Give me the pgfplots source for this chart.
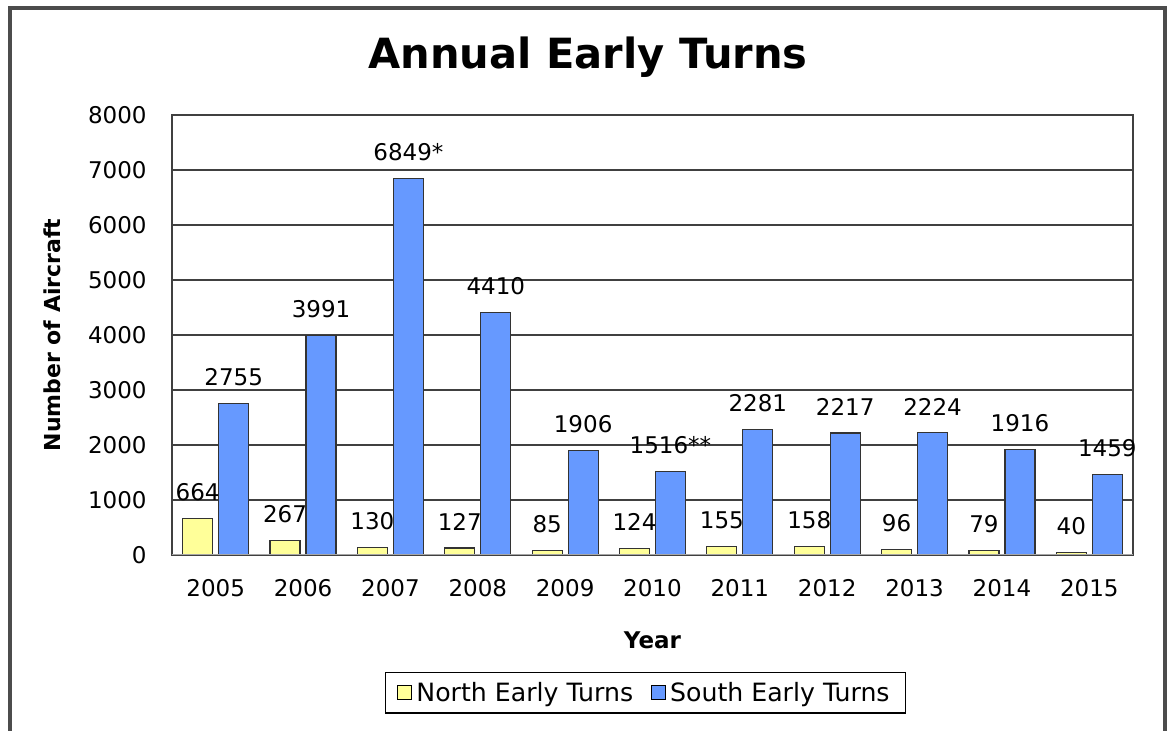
\documentclass[border=0pt]{standalone}
\usepackage{pgfplots}
\usepackage{pgfplotstable}
\pgfplotsset{compat=1.18}
\usepackage{fontspec}
\setmainfont{DejaVu Sans}
\definecolor{northc}{HTML}{FFFF99}
\definecolor{southc}{HTML}{6699FF}
\definecolor{gridc}{HTML}{404040}

\pgfplotstableread{
x y label
0 664 664
1 267 267
2 130 130
3 127 127
4 85 85
5 124 124
6 155 155
7 158 158
8 96 96
9 79 79
10 40 40
}\northtable

\pgfplotstableread{
x y label
0 2755 2755
1 3991 3991
2 6849 6849*
3 4410 4410
4 1906 1906
5 1516 1516**
6 2281 2281
7 2217 2217
8 2224 2224
9 1916 1916
10 1459 1459
}\southtable

\begin{document}
\begin{tikzpicture}
\useasboundingbox (0pt,0pt) rectangle (584.5pt,365.5pt);
\draw[line width=2pt, black!70] (5pt,-10pt) -- (5pt,361.5pt) -- (582.5pt,361.5pt) -- (582.5pt,-10pt);
\node[font=\bfseries\fontsize{20.8}{24}\selectfont] at (294pt,337pt) {Annual Early Turns};
\begin{axis}[
  at={(86pt,88pt)}, anchor=south west,
  scale only axis, width=480.5pt, height=220pt,
  ybar=3pt, bar width=15pt,
  xmin=-0.5, xmax=10.5, ymin=0, ymax=8000,
  xtick={0,...,10},
  xticklabels={2005,2006,2007,2008,2009,2010,2011,2012,2013,2014,2015},
  ytick={0,1000,...,8000},
  scaled y ticks=false,
  /pgf/number format/1000 sep={},
  /pgf/number format/assume math mode=true,
  major tick length=0pt,
  ymajorgrids,
  major grid style={gridc, line width=0.8pt},
  axis line style={gridc, line width=0.8pt},
  tick label style={font=\fontsize{11.5}{13}\selectfont},
  xticklabel style={anchor=center, yshift=-16.5pt},
  yticklabel style={anchor=east, inner sep=0pt, xshift=-12.5pt},
  xlabel={Year}, ylabel={Number of Aircraft},
  xlabel style={font=\bfseries\fontsize{11.5}{13}\selectfont, at={(axis description cs:0.5,0)}, anchor=center, yshift=-42.5pt},
  ylabel style={font=\bfseries\fontsize{11}{13}\selectfont, at={(axis description cs:-0.1249,0.5)}, anchor=center},
  legend style={at={(0.4927,-0.3136)}, anchor=center, legend columns=2,
    draw=black, line width=0.6pt, font=\fontsize{12.6}{14}\selectfont,
    inner xsep=6pt, inner ysep=2.5pt,
    /tikz/every even column/.append style={column sep=7pt}},
  legend image code/.code={\draw[#1, draw=black, line width=0.5pt] (0pt,-3.5pt) rectangle (7pt,3.5pt);},
  nodes near coords,
  point meta=explicit symbolic,
  every node near coord/.append style={font=\fontsize{11.5}{13}\selectfont, anchor=south, inner sep=0pt, yshift=8.5pt},
]
\addplot[fill=northc, draw=black!80, line width=0.6pt] table[x=x, y=y, meta=label] {\northtable};
\addplot[fill=southc, draw=black!80, line width=0.6pt] table[x=x, y=y, meta=label] {\southtable};
\legend{North Early Turns, South Early Turns}
\draw[black!35, line width=1pt] (axis cs:-0.5,0) -- (axis cs:10.5,0);
\end{axis}
\end{tikzpicture}
\end{document}
